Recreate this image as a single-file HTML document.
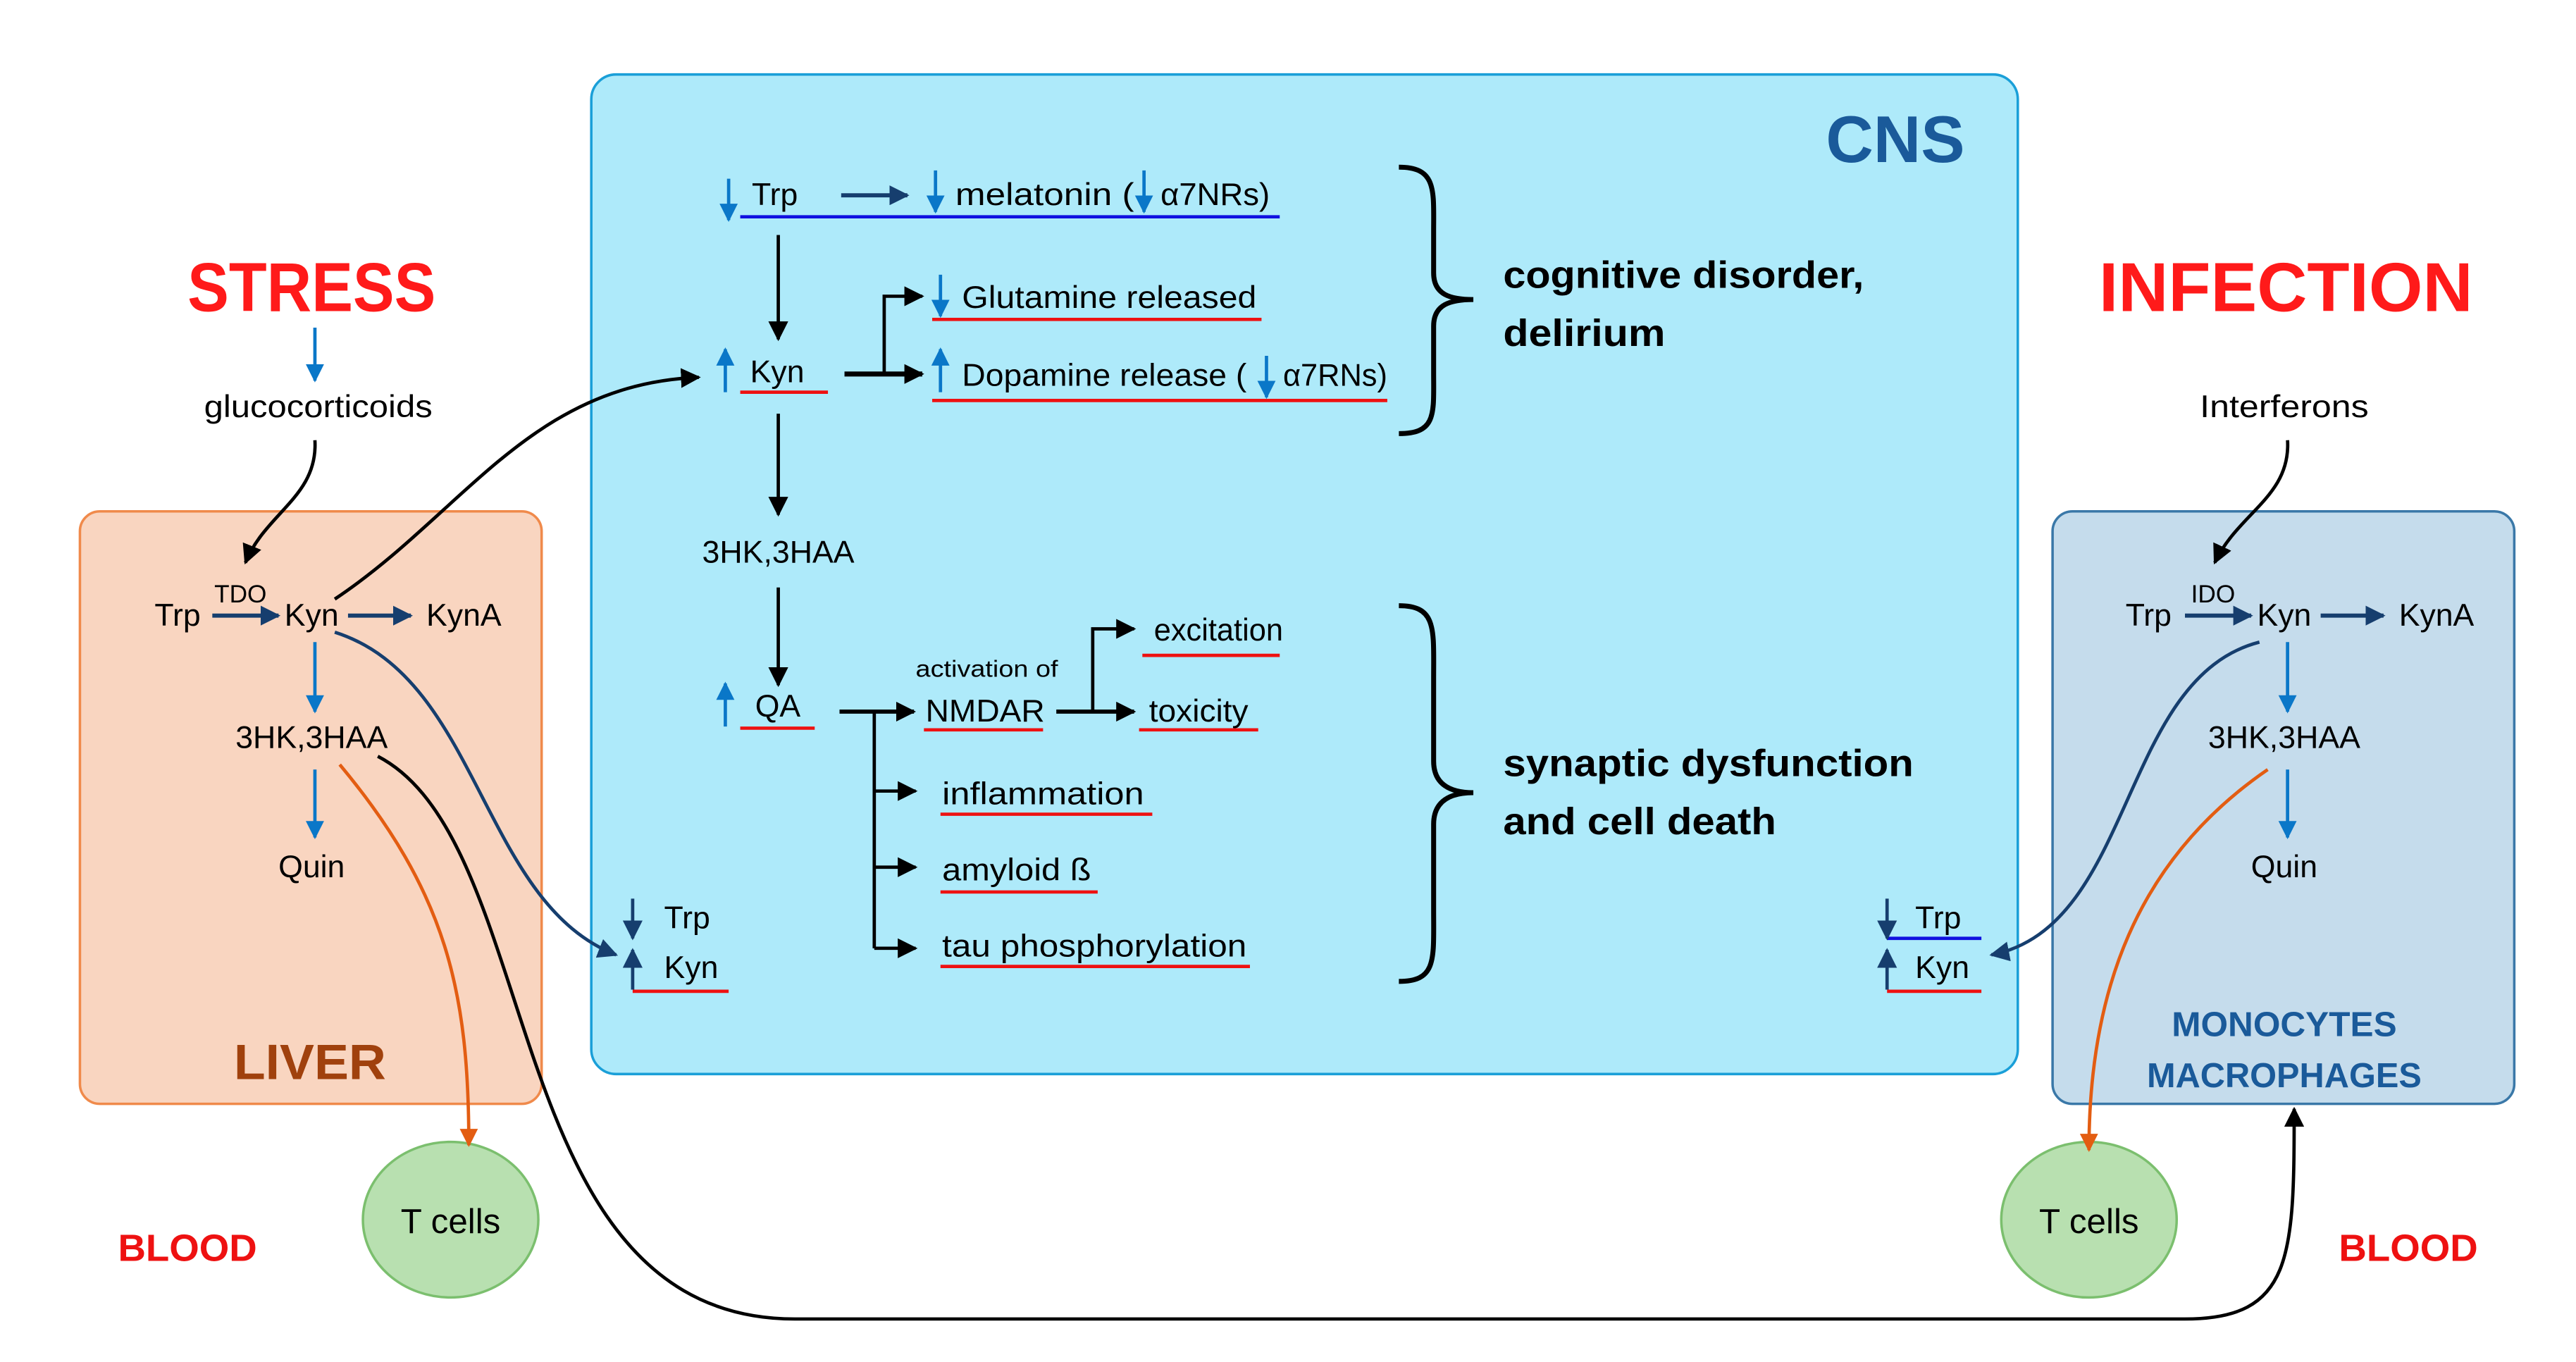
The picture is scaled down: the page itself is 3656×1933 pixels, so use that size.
<!DOCTYPE html>
<html><head><meta charset="utf-8"><style>html,body{margin:0;padding:0;background:#fff}svg{display:block}text{font-family:"Liberation Sans",sans-serif}</style></head><body>
<svg width="3656" height="1933" viewBox="0 0 1556 823" xmlns="http://www.w3.org/2000/svg">
<defs>
<marker id="ab" viewBox="0 0 10 10" refX="9" refY="5" markerWidth="5" markerHeight="5" orient="auto-start-reverse" markerUnits="userSpaceOnUse"><path d="M0,0L10,5L0,10z" fill="#000"/></marker>
<marker id="abk" viewBox="0 0 10 10" refX="9" refY="5" markerWidth="12" markerHeight="12" orient="auto" markerUnits="userSpaceOnUse"><path d="M0,0L10,5L0,10z" fill="#000"/></marker>
<marker id="abl" viewBox="0 0 10 10" refX="9" refY="5" markerWidth="11" markerHeight="11" orient="auto" markerUnits="userSpaceOnUse"><path d="M0,0L10,5L0,10z" fill="#0a77c8"/></marker>
<marker id="adb" viewBox="0 0 10 10" refX="9" refY="5" markerWidth="12" markerHeight="12" orient="auto" markerUnits="userSpaceOnUse"><path d="M0,0L10,5L0,10z" fill="#163e6e"/></marker>
<marker id="aor" viewBox="0 0 10 10" refX="9" refY="5" markerWidth="11" markerHeight="11" orient="auto" markerUnits="userSpaceOnUse"><path d="M0,0L10,5L0,10z" fill="#e35d12"/></marker>
</defs>
<rect x="357" y="45" width="862" height="604" rx="15" fill="#aeeafa" stroke="#1a9fd8" stroke-width="1.5"/>
<rect x="48" y="309" width="279" height="358" rx="12" fill="#f9d5c0" stroke="#f08a4b" stroke-width="1.5"/>
<rect x="1240" y="309" width="279" height="358" rx="12" fill="#c5dcec" stroke="#3a78a8" stroke-width="1.5"/>

<g font-weight="bold" text-anchor="middle">
<text x="188" y="188" font-size="42" fill="#ff1a1a" textLength="150" lengthAdjust="spacingAndGlyphs">STRESS</text>
<text x="1381" y="188" font-size="42" fill="#ff1a1a" textLength="226" lengthAdjust="spacingAndGlyphs">INFECTION</text>
<text x="1145" y="98" font-size="40" fill="#1a5a9a" textLength="84" lengthAdjust="spacingAndGlyphs">CNS</text>
<text x="187" y="652" font-size="30" fill="#a0410d" textLength="92" lengthAdjust="spacingAndGlyphs">LIVER</text>
<text x="1380" y="626" font-size="21" fill="#1a5a9a" textLength="136" lengthAdjust="spacingAndGlyphs">MONOCYTES</text>
<text x="1380" y="657" font-size="21" fill="#1a5a9a" textLength="166" lengthAdjust="spacingAndGlyphs">MACROPHAGES</text>
<text x="113" y="762" font-size="23" fill="#ee1111" textLength="84" lengthAdjust="spacingAndGlyphs">BLOOD</text>
<text x="1455" y="762" font-size="23" fill="#ee1111" textLength="84" lengthAdjust="spacingAndGlyphs">BLOOD</text>
</g>

<!-- left side -->
<line x1="190" y1="198" x2="190" y2="230" stroke="#0a77c8" stroke-width="2" marker-end="url(#abl)"/>
<g font-size="19" text-anchor="middle" fill="#000">
<text x="192" y="252" textLength="138" lengthAdjust="spacingAndGlyphs">glucocorticoids</text>
<text x="107" y="378">Trp</text>
<text x="145" y="364" font-size="15">TDO</text>
<text x="188" y="378">Kyn</text>
<text x="280" y="378">KynA</text>
<text x="188" y="452" textLength="92" lengthAdjust="spacingAndGlyphs">3HK,3HAA</text>
<text x="188" y="530">Quin</text>
<text x="1380" y="252" textLength="102" lengthAdjust="spacingAndGlyphs">Interferons</text>
<text x="1298" y="378">Trp</text>
<text x="1337" y="364" font-size="15">IDO</text>
<text x="1380" y="378">Kyn</text>
<text x="1472" y="378">KynA</text>
<text x="1380" y="452" textLength="92" lengthAdjust="spacingAndGlyphs">3HK,3HAA</text>
<text x="1380" y="530">Quin</text>
<text x="272" y="745" font-size="21">T cells</text>
<text x="1262" y="745" font-size="21">T cells</text>
</g>
<path d="M190,266 C192,300 160,310 148,340" fill="none" stroke="#000" stroke-width="2" marker-end="url(#abk)"/>
<path d="M1382,266 C1384,300 1352,310 1338,340" fill="none" stroke="#000" stroke-width="2" marker-end="url(#abk)"/>
<g stroke="#163e6e" stroke-width="2.5">
<line x1="128" y1="372" x2="168" y2="372" marker-end="url(#adb)"/>
<line x1="210" y1="372" x2="248" y2="372" marker-end="url(#adb)"/>
<line x1="1320" y1="372" x2="1360" y2="372" marker-end="url(#adb)"/>
<line x1="1402" y1="372" x2="1440" y2="372" marker-end="url(#adb)"/>
</g>
<g stroke="#0a77c8" stroke-width="2">
<line x1="190" y1="388" x2="190" y2="430" marker-end="url(#abl)"/>
<line x1="190" y1="465" x2="190" y2="506" marker-end="url(#abl)"/>
<line x1="1382" y1="388" x2="1382" y2="430" marker-end="url(#abl)"/>
<line x1="1382" y1="465" x2="1382" y2="506" marker-end="url(#abl)"/>
</g>
<ellipse cx="272" cy="737" rx="53" ry="47" fill="#b8e0b0" stroke="#7bbf6e" stroke-width="1.5"/>
<ellipse cx="1262" cy="737" rx="53" ry="47" fill="#b8e0b0" stroke="#7bbf6e" stroke-width="1.5"/>
<g font-size="21" text-anchor="middle"><text x="272" y="745">T cells</text><text x="1262" y="745">T cells</text></g>
<path d="M205,462 C270,540 283,600 283,692" fill="none" stroke="#e35d12" stroke-width="2" marker-end="url(#aor)"/>
<path d="M1370,465 C1290,520 1262,600 1262,695" fill="none" stroke="#e35d12" stroke-width="2" marker-end="url(#aor)"/>
<path d="M228,457 C330,510 300,797 480,797 L1320,797 C1385,797 1386,760 1386,670" fill="none" stroke="#000" stroke-width="2" marker-end="url(#abk)"/>
<path d="M202,382 C290,410 290,545 372,577" fill="none" stroke="#163e6e" stroke-width="2" marker-end="url(#adb)"/>
<path d="M1365,388 C1280,410 1290,560 1203,577" fill="none" stroke="#163e6e" stroke-width="2" marker-end="url(#adb)"/>
<path d="M202,362 C280,310 320,232 422,228" fill="none" stroke="#000" stroke-width="2" marker-end="url(#abk)"/>

<!-- CNS content -->
<g font-size="19" fill="#000">
<text x="454" y="124">Trp</text>
<text x="577" y="124" textLength="108" lengthAdjust="spacingAndGlyphs">melatonin  (</text>
<text x="701" y="124" textLength="66" lengthAdjust="spacingAndGlyphs">α7NRs)</text>
<text x="453" y="231">Kyn</text>
<text x="581" y="186" textLength="178" lengthAdjust="spacingAndGlyphs">Glutamine released</text>
<text x="581" y="233" textLength="172" lengthAdjust="spacingAndGlyphs">Dopamine release (</text>
<text x="775" y="233" textLength="63" lengthAdjust="spacingAndGlyphs">α7RNs)</text>
<text x="470" y="340" text-anchor="middle" textLength="92" lengthAdjust="spacingAndGlyphs">3HK,3HAA</text>
<text x="456" y="433">QA</text>
<text x="596" y="409" font-size="14" text-anchor="middle" textLength="86" lengthAdjust="spacingAndGlyphs">activation of</text>
<text x="559" y="436" textLength="72" lengthAdjust="spacingAndGlyphs">NMDAR</text>
<text x="697" y="387" textLength="78" lengthAdjust="spacingAndGlyphs">excitation</text>
<text x="694" y="436" textLength="60" lengthAdjust="spacingAndGlyphs">toxicity</text>
<text x="569" y="486" textLength="122" lengthAdjust="spacingAndGlyphs">inflammation</text>
<text x="569" y="532" textLength="90" lengthAdjust="spacingAndGlyphs">amyloid ß</text>
<text x="569" y="578" textLength="184" lengthAdjust="spacingAndGlyphs">tau phosphorylation</text>
<text x="401" y="561">Trp</text>
<text x="401" y="591">Kyn</text>
<text x="1157" y="561">Trp</text>
<text x="1157" y="591">Kyn</text>
</g>
<g font-size="23" font-weight="bold">
<text x="908" y="174" textLength="218" lengthAdjust="spacingAndGlyphs">cognitive disorder,</text>
<text x="908" y="209" textLength="98" lengthAdjust="spacingAndGlyphs">delirium</text>
<text x="908" y="469" textLength="248" lengthAdjust="spacingAndGlyphs">synaptic  dysfunction</text>
<text x="908" y="504" textLength="165" lengthAdjust="spacingAndGlyphs">and cell death</text>
</g>
<!-- underlines -->
<g stroke-width="2">
<line x1="447" y1="131" x2="773" y2="131" stroke="#1010e0"/>
<line x1="447" y1="237" x2="500" y2="237" stroke="#ee1111"/>
<line x1="563" y1="193" x2="762" y2="193" stroke="#ee1111"/>
<line x1="563" y1="242" x2="838" y2="242" stroke="#ee1111"/>
<line x1="447" y1="440" x2="492" y2="440" stroke="#ee1111"/>
<line x1="558" y1="441" x2="630" y2="441" stroke="#ee1111"/>
<line x1="690" y1="396" x2="773" y2="396" stroke="#ee1111"/>
<line x1="688" y1="441" x2="760" y2="441" stroke="#ee1111"/>
<line x1="568" y1="492" x2="696" y2="492" stroke="#ee1111"/>
<line x1="568" y1="539" x2="663" y2="539" stroke="#ee1111"/>
<line x1="568" y1="584" x2="755" y2="584" stroke="#ee1111"/>
<line x1="382" y1="599" x2="440" y2="599" stroke="#ee1111"/>
<line x1="1140" y1="567" x2="1197" y2="567" stroke="#1010e0"/>
<line x1="1140" y1="599" x2="1197" y2="599" stroke="#ee1111"/>
</g>
<!-- blue small arrows -->
<g stroke="#0a77c8" stroke-width="2">
<line x1="440" y1="108" x2="440" y2="133" marker-end="url(#abl)"/>
<line x1="565" y1="103" x2="565" y2="128" marker-end="url(#abl)"/>
<line x1="691" y1="103" x2="691" y2="128" marker-end="url(#abl)"/>
<line x1="568" y1="166" x2="568" y2="191" marker-end="url(#abl)"/>
<line x1="765" y1="215" x2="765" y2="240" marker-end="url(#abl)"/>
<line x1="438" y1="237" x2="438" y2="211" marker-end="url(#abl)"/>
<line x1="568" y1="237" x2="568" y2="211" marker-end="url(#abl)"/>
<line x1="438" y1="439" x2="438" y2="413" marker-end="url(#abl)"/>
</g>
<g stroke="#163e6e" stroke-width="2">
<line x1="508" y1="118" x2="548" y2="118" stroke-width="2.5" marker-end="url(#adb)"/>
<line x1="382" y1="543" x2="382" y2="567" marker-end="url(#adb)"/>
<line x1="382" y1="598" x2="382" y2="574" marker-end="url(#adb)"/>
<line x1="1140" y1="543" x2="1140" y2="567" marker-end="url(#adb)"/>
<line x1="1140" y1="598" x2="1140" y2="574" marker-end="url(#adb)"/>
</g>
<!-- black flow -->
<g stroke="#000" stroke-width="2" fill="none">
<line x1="470" y1="142" x2="470" y2="205" marker-end="url(#abk)"/>
<line x1="470" y1="250" x2="470" y2="311" marker-end="url(#abk)"/>
<line x1="470" y1="355" x2="470" y2="414" marker-end="url(#abk)"/>
<line x1="510" y1="226" x2="557" y2="226" stroke-width="3" marker-end="url(#abk)"/>
<polyline points="534,226 534,179 557,179" marker-end="url(#abk)"/>
<line x1="507" y1="430" x2="552" y2="430" stroke-width="2.5" marker-end="url(#abk)"/>
<line x1="638" y1="430" x2="685" y2="430" stroke-width="2.5" marker-end="url(#abk)"/>
<polyline points="660,430 660,380 685,380" marker-end="url(#abk)"/>
<line x1="528" y1="430" x2="528" y2="573"/>
<line x1="528" y1="478" x2="553" y2="478" marker-end="url(#abk)"/>
<line x1="528" y1="524" x2="553" y2="524" marker-end="url(#abk)"/>
<line x1="528" y1="573" x2="553" y2="573" marker-end="url(#abk)"/>
<path d="M845,101 C868,101 866,115 866,140 L866,165 C866,178 876,181 890,181 C876,181 866,184 866,197 L866,225 C866,250 868,262 845,262" stroke-width="3"/>
<path d="M845,366 C868,366 866,380 866,410 L866,460 C866,474 876,479 890,479 C876,479 866,484 866,498 L866,550 C866,580 868,593 845,593" stroke-width="3"/>
</g>
</svg>
</body></html>
